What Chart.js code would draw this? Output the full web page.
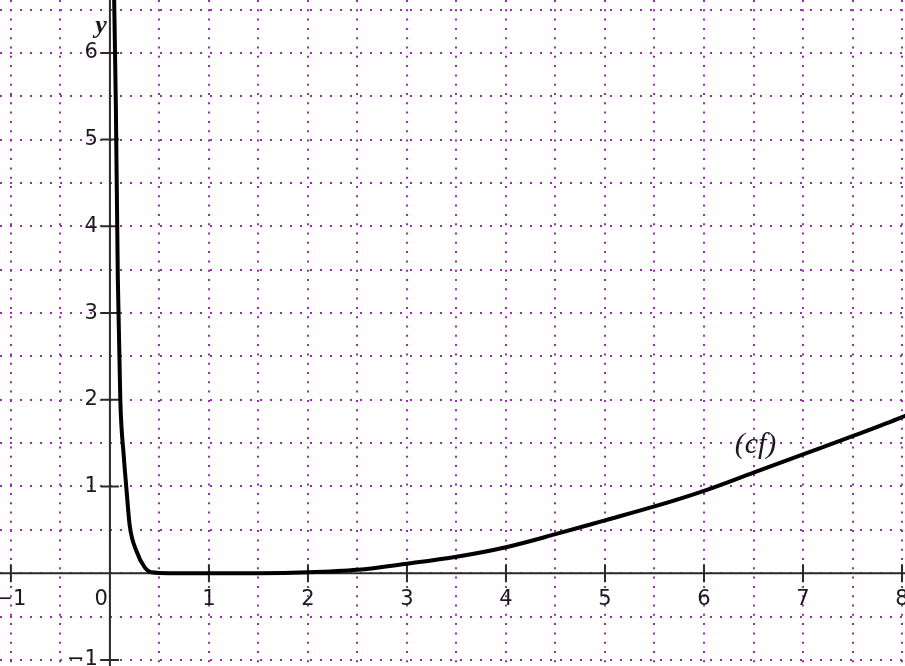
<!DOCTYPE html>
<html>
<head>
<meta charset="utf-8">
<script src="https://cdn.jsdelivr.net/npm/chart.js@4"></script>
<style>
html,body{margin:0;padding:0;background:#fff;overflow:hidden;}
canvas{display:block;}
</style>
</head>
<body>
<canvas id="c" width="905" height="666"></canvas>
<script>
// ---- data ----
const curveX = [0.04, 0.06, 0.08, 0.105, 0.14, 0.165, 0.2, 0.27, 0.35, 0.42, 0.6, 1, 1.5, 2, 2.5, 3, 3.5, 4, 4.5, 5, 5.5, 6, 6.5, 7, 7.5, 8, 8.1];
const curveY = [6.8, 5.4, 3.4, 2.0, 1.35, 1.0, 0.55, 0.25, 0.07, 0.01, 0, 0, 0, 0.01, 0.04, 0.11, 0.19, 0.3, 0.45, 0.61, 0.77, 0.95, 1.16, 1.37, 1.58, 1.8, 1.85];
const gridX = [-1, -0.5, 0, 0.5, 1, 1.5, 2, 2.5, 3, 3.5, 4, 4.5, 5, 5.5, 6, 6.5, 7, 7.5, 8];
const gridY = [-1, -0.5, 0, 0.5, 1, 1.5, 2, 2.5, 3, 3.5, 4, 4.5, 5, 5.5, 6, 6.5];
const xTickValues = [-1, 1, 2, 3, 4, 5, 6, 7, 8];
const xTickLabels = ['\u22121', '1', '2', '3', '4', '5', '6', '7', '8'];
const yTickValues = [-1, 1, 2, 3, 4, 5, 6];
const yTickLabels = ['\u22121', '1', '2', '3', '4', '5', '6'];
const originLabel = '0';
const curveName = '(cf)';
const curveNameAt = {x: 6.52, y: 1.48};
const yAxisName = 'y';

const GRID = '#9c2cae';
const TEXT = '#1a1a1a';

const axesPlugin = {
  id: 'axes',
  beforeDatasetsDraw(chart) {
    const ctx = chart.ctx, xs = chart.scales.x, ys = chart.scales.y, a = chart.chartArea;
    const x0 = xs.getPixelForValue(0), y0 = ys.getPixelForValue(0);
    ctx.save();
    ctx.strokeStyle = '#2a2a2a';
    ctx.lineWidth = 2;
    ctx.beginPath();
    ctx.moveTo(a.left, y0); ctx.lineTo(a.right, y0);
    ctx.moveTo(x0, a.top); ctx.lineTo(x0, a.bottom);
    ctx.stroke();
    ctx.beginPath();
    xTickValues.forEach(v => { const p = xs.getPixelForValue(v); ctx.moveTo(p, y0 - 9); ctx.lineTo(p, y0 + 9); });
    yTickValues.forEach(v => { const p = ys.getPixelForValue(v); ctx.moveTo(x0 - 9, p); ctx.lineTo(x0 + 9, p); });
    ctx.stroke();
    ctx.restore();
  },
  afterDraw(chart) {
    const ctx = chart.ctx, xs = chart.scales.x, ys = chart.scales.y;
    const x0 = xs.getPixelForValue(0), y0 = ys.getPixelForValue(0);
    ctx.save();
    ctx.fillStyle = TEXT;
    ctx.font = '21px "DejaVu Sans"';
    ctx.textBaseline = 'middle';
    ctx.textAlign = 'center';
    xTickValues.forEach((v, i) => ctx.fillText(xTickLabels[i], xs.getPixelForValue(v), y0 + 26));
    ctx.textAlign = 'right';
    ctx.fillText(originLabel, x0 - 2, y0 + 26);
    yTickValues.forEach((v, i) => ctx.fillText(yTickLabels[i], x0 - 12, ys.getPixelForValue(v)));
    ctx.font = 'italic 30px "Liberation Serif"';
    ctx.textAlign = 'center';
    ctx.fillText(curveName, xs.getPixelForValue(curveNameAt.x), ys.getPixelForValue(curveNameAt.y));
    ctx.font = 'italic bold 26px "Liberation Serif"';
    ctx.textAlign = 'right';
    ctx.fillText(yAxisName, x0 - 3, 26);
    ctx.restore();
  }
};

new Chart(document.getElementById('c'), {
  type: 'scatter',
  data: {
    datasets: [{
      data: curveX.map((x, i) => ({x: x, y: curveY[i]})),
      showLine: true,
      borderColor: '#000',
      borderWidth: 4,
      pointRadius: 0,
      cubicInterpolationMode: 'monotone'
    }]
  },
  options: {
    responsive: false,
    animation: false,
    devicePixelRatio: 1,
    layout: {padding: 0},
    plugins: {legend: {display: false}, tooltip: {enabled: false}},
    scales: {
      x: {
        type: 'linear', min: -1.11, max: 8.03,
        afterBuildTicks: s => { s.ticks = gridX.map(v => ({value: v})); },
        ticks: {display: false},
        grid: {color: GRID, lineWidth: 2, drawTicks: false},
        border: {display: false, dash: [2, 7.3]}
      },
      y: {
        type: 'linear', min: -1.07, max: 6.61,
        afterBuildTicks: s => { s.ticks = gridY.map(v => ({value: v})); },
        ticks: {display: false},
        grid: {color: GRID, lineWidth: 2, drawTicks: false},
        border: {display: false, dash: [2, 8]}
      }
    }
  },
  plugins: [axesPlugin]
});
</script>
</body>
</html>
